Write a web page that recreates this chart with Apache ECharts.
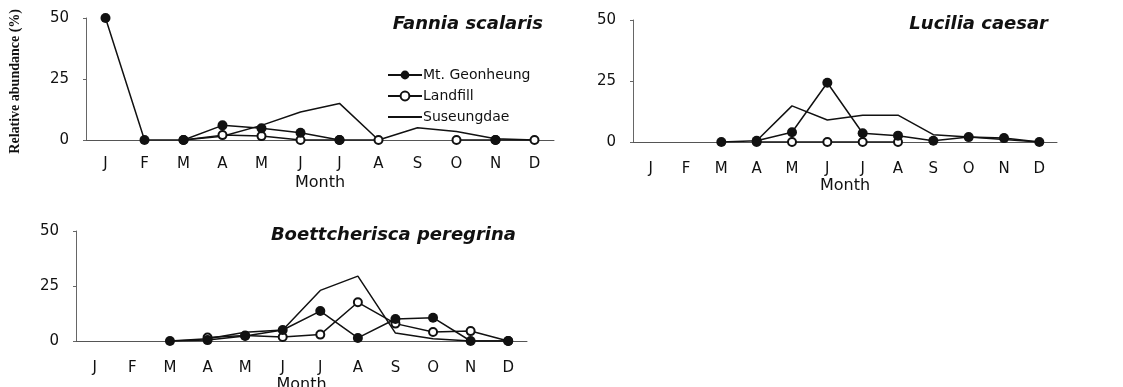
<!DOCTYPE html>
<html><head><meta charset="utf-8">
<script src="https://cdn.jsdelivr.net/npm/echarts@6/dist/echarts.min.js"></script>
<style>html,body{margin:0;padding:0;background:#fff}#c{width:1123px;height:387px}</style>
</head><body><div id="c"></div>
<script>
const months = ['J','F','M','A','M','J','J','A','S','O','N','D'];
const yTicks = [0, 25, 50];
const seriesNames = ['Mt. Geonheung', 'Landfill', 'Suseungdae'];
const speciesNames = ['Fannia scalaris', 'Lucilia caesar', 'Boettcherisca peregrina'];

// Fannia scalaris
const fanniaGeonheung = [50, 0, 0, 6, 4.8, 3, 0, null, null, null, 0, null];
const fanniaLandfill = [null, null, 0, 2, 1.6, 0, 0, 0, null, 0, 0, 0];
const fanniaSuseungdae = [null, null, 0, 1.5, 6, 11.5, 15, 0, 5, 3.5, 0.5, 0];

// Lucilia caesar
const luciliaGeonheung = [null, null, 0, 0.5, 4, 24.3, 3.6, 2.6, 0.5, 2, 1.6, 0];
const luciliaLandfill = [null, null, null, 0, 0, 0, 0, 0, null, null, null, null];
const luciliaSuseungdae = [null, null, null, 0.5, 14.8, 9, 11, 11, 3, 2, 1, 0];

// Boettcherisca peregrina
const boettGeonheung = [null, null, 0, 0.4, 2.3, 5, 13.6, 1.4, 10, 10.6, 0, 0];
const boettLandfill = [null, null, null, 1.6, 2.5, 1.8, 2.9, 17.6, 7.9, 4.1, 4.5, 0];
const boettSuseungdae = [null, null, 0, 1, 4, 5, 23, 29.5, 3.6, 1, 0, 0];

const panelData = [
  [fanniaGeonheung, fanniaLandfill, fanniaSuseungdae],
  [luciliaGeonheung, luciliaLandfill, luciliaSuseungdae],
  [boettGeonheung, boettLandfill, boettSuseungdae]
];

const grids = [
  {left: 86, top: 18, width: 468, height: 122, outerBoundsMode: 'none', containLabel: false},
  {left: 633, top: 20, width: 424, height: 122, outerBoundsMode: 'none', containLabel: false},
  {left: 76, top: 231, width: 451, height: 110, outerBoundsMode: 'none', containLabel: false}
];
const labelMargins = [17, 20, 20];
const nameGaps = [35, 30, 34];
const titlePos = [
  {right: 1123 - 548, top: 10},
  {right: 1123 - 1053, top: 10},
  {right: 1123 - 521, top: 221}
];

const FONT = '"DejaVu Sans", sans-serif';
const INK = '#111';

const xAxes = grids.map((g, i) => ({
  type: 'category', gridIndex: i, data: months, boundaryGap: true,
  axisLine: {lineStyle: {color: '#555', width: 1}},
  axisTick: {inside: true, length: 4, lineStyle: {color: '#555'}},
  axisLabel: {interval: 0, margin: labelMargins[i], color: INK, fontSize: 15, fontFamily: FONT},
  name: 'Month', nameLocation: 'middle', nameGap: nameGaps[i],
  nameTextStyle: {color: INK, fontSize: 16, fontFamily: FONT}
}));
const yAxes = grids.map((g, i) => ({
  type: 'value', gridIndex: i, min: yTicks[0], max: yTicks[yTicks.length - 1], interval: 25,
  axisLine: {show: true, lineStyle: {color: '#666', width: 1}},
  axisTick: {show: true, length: 3, lineStyle: {color: '#666'}},
  splitLine: {show: false},
  axisLabel: {margin: 17, color: INK, fontSize: 15, fontFamily: FONT}
}));

const series = [];
panelData.forEach((arr, p) => {
  arr.forEach((vals, s) => {
    const base = {
      name: seriesNames[s], type: 'line', xAxisIndex: p, yAxisIndex: p,
      data: vals, connectNulls: false, animation: false, showAllSymbol: true,
      lineStyle: {color: INK, width: 1.5}, z: 3 - s
    };
    if (s === 0) {
      base.symbol = 'circle'; base.symbolSize = 10;
      base.itemStyle = {color: INK};
    } else if (s === 1) {
      base.symbol = 'emptyCircle'; base.symbolSize = 8;
      base.itemStyle = {color: INK, borderWidth: 1.5};
    } else {
      base.symbol = 'none'; base.showSymbol = false;
      base.itemStyle = {color: INK};
    }
    series.push(base);
  });
});

const option = {
  backgroundColor: '#fff',
  animation: false,
  grid: grids,
  xAxis: xAxes,
  yAxis: yAxes,
  title: speciesNames.map((t, i) => Object.assign({
    text: t,
    textStyle: {fontFamily: '"DejaVu Sans", sans-serif', fontStyle: 'italic', fontWeight: 'bold', fontSize: 18, color: INK}
  }, titlePos[i])),
  legend: {
    orient: 'vertical', left: 382, top: 63, itemGap: 7, itemWidth: 34, itemHeight: 11,
    data: [
      {name: seriesNames[0]},
      {name: seriesNames[1]},
      {name: seriesNames[2], itemStyle: {opacity: 0}}
    ],
    textStyle: {color: INK, fontSize: 14, fontFamily: FONT, padding: [0, 0, 0, -4]}
  },
  graphic: [{
    type: 'text', left: 8, top: 9, rotation: Math.PI / 2,
    style: {text: 'Relative abundance (%)', font: 'bold 14px "Liberation Serif", serif', fill: INK}
  }],
  series: series
};
const chart = echarts.init(document.getElementById('c'), null, {renderer: 'canvas'});
chart.setOption(option);
</script></body></html>
